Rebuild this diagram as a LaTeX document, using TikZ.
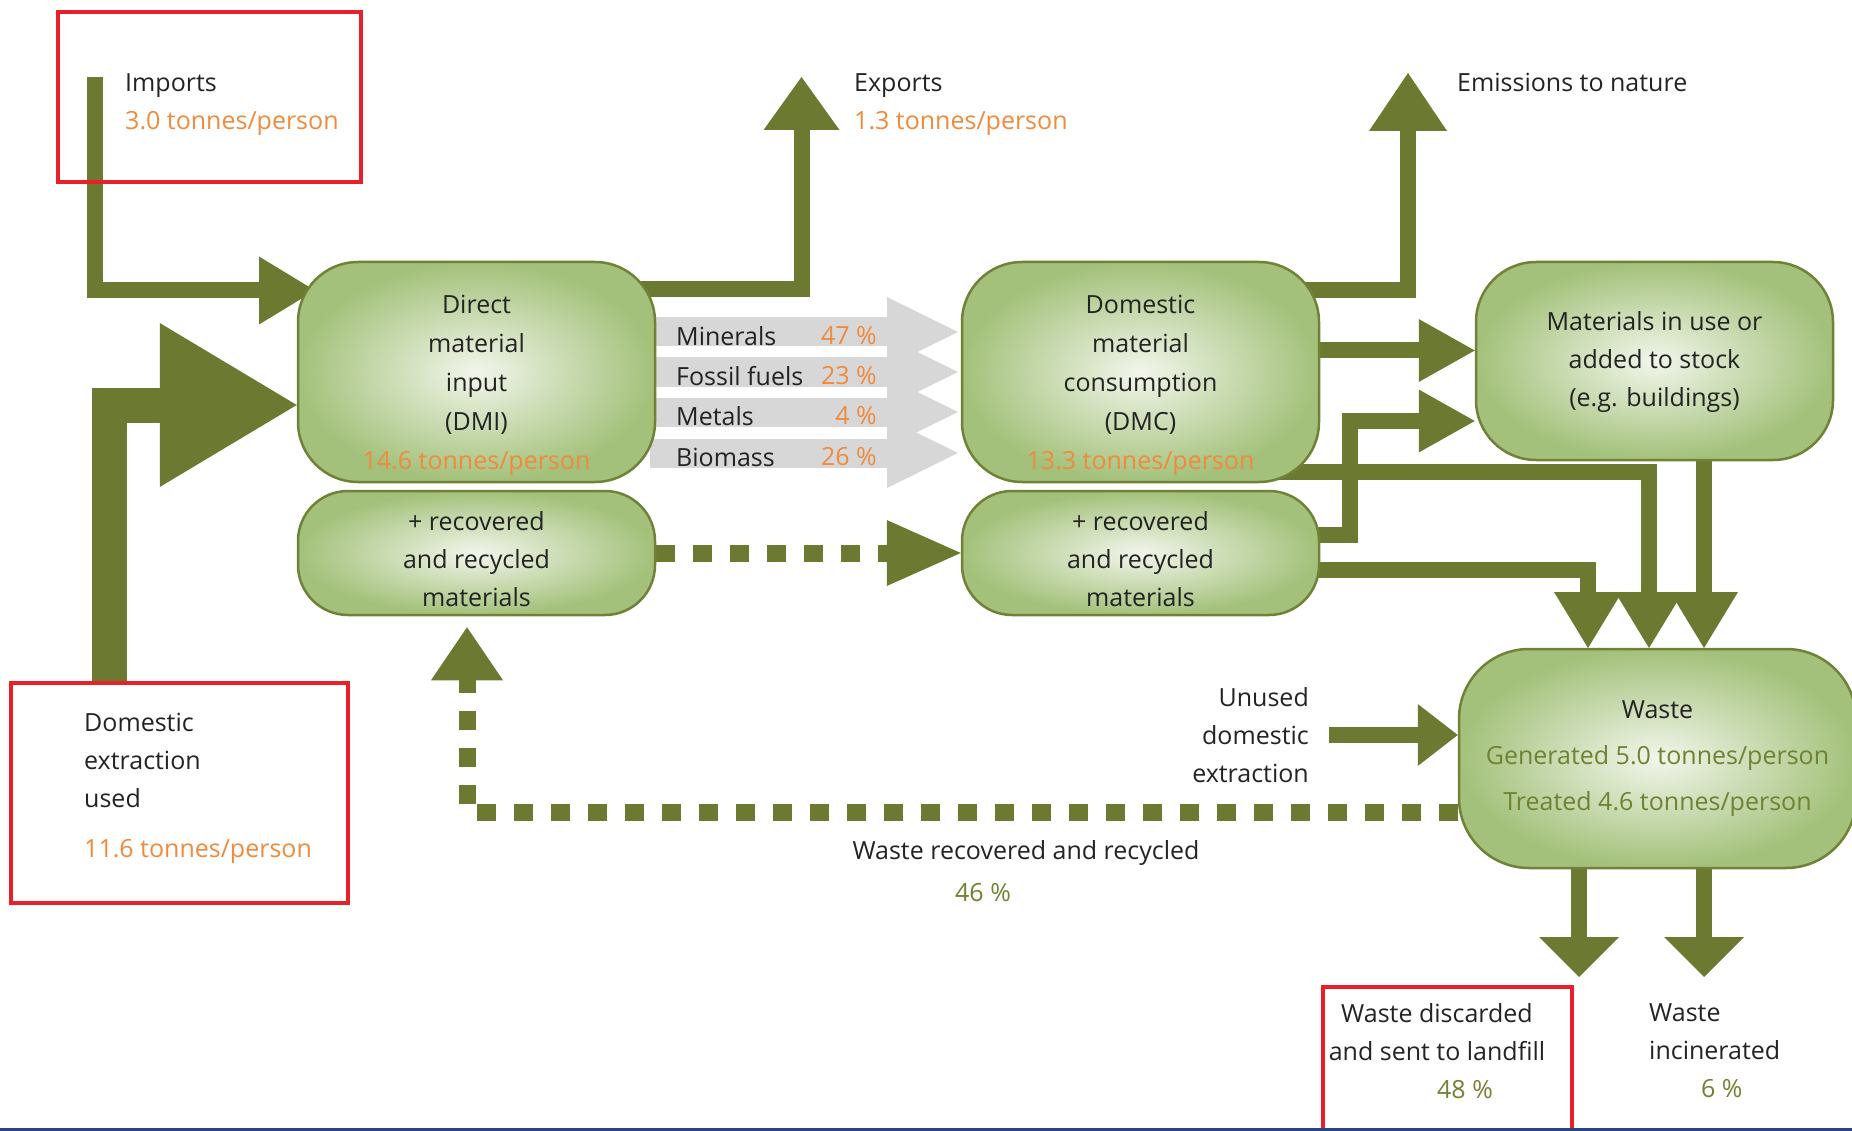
\documentclass[tikz,border=0pt]{standalone}
\usepackage{fontspec}
\setmainfont{Open Sans}
\usetikzlibrary{arrows.meta}
\definecolor{flowgreen}{RGB}{107,122,48}
\definecolor{boxedge}{RGB}{112,130,55}
\definecolor{boxouter}{RGB}{163,193,122}
\definecolor{boxinner}{RGB}{242,246,235}
\definecolor{figorange}{RGB}{240,138,60}
\definecolor{figgreen}{RGB}{112,130,50}
\definecolor{bandgrey}{RGB}{215,215,215}
\definecolor{textgrey}{RGB}{35,35,35}
\definecolor{framered}{RGB}{232,32,42}
\definecolor{ruleblue}{RGB}{40,70,125}
\newcommand{\boxlift}[1]{\rule{0pt}{#1}}
\pgfdeclarelayer{behind}
\pgfsetlayers{behind,main}

\begin{document}
\begin{tikzpicture}[x=1pt,y=-1pt,
  every node/.style={font=\fontsize{25}{38}\selectfont, text=textgrey, inner sep=0pt},
  box/.style={draw=boxedge, line width=2.5pt, rounded corners=60pt, inner color=boxinner, outer color=boxouter, align=center, minimum width=357pt},
  flow/.style={draw=flowgreen, line width=16pt, -{Triangle[length=56pt,width=68pt,line width=0pt]}},
  recyc/.style={flow, line width=17pt, dash pattern=on 19pt off 18pt},
  redframe/.style={draw=framered, line width=4pt}]
\useasboundingbox (0,0) rectangle (1852,1131);
\node[box, minimum height=220pt, font=\fontsize{25}{39}\selectfont] (DMI) at (476.5,372) {\boxlift{45pt}Direct\\material\\input\\(DMI)\\{\color{figorange}14.6 tonnes/person}};
\node[box, minimum height=124pt, rounded corners=50pt] (rec1) at (476.5,553) {\boxlift{31pt}+ recovered\\and recycled\\materials};
\node[box, minimum height=220pt, font=\fontsize{25}{39}\selectfont] (DMC) at (1140.5,372) {\boxlift{45pt}Domestic\\material\\consumption\\(DMC)\\{\color{figorange}13.3 tonnes/person}};
\node[box, minimum height=124pt, rounded corners=50pt] (rec2) at (1140.5,553) {\boxlift{31pt}+ recovered\\and recycled\\materials};
\node[box, minimum height=198pt] (stock) at (1654.5,361) {\boxlift{22pt}Materials in use or\\added to stock\\(e.g. buildings)};
\node[box, minimum width=397pt, minimum height=219pt, rounded corners=70pt, font=\fontsize{25}{46}\selectfont] (waste) at (1657.5,758.5) {Waste\\{\color{figgreen}Generated 5.0 tonnes/person}\\{\color{figgreen}Treated 4.6 tonnes/person}};
\node[anchor=north west, align=left] (implbl) at (125,73) {Imports\\{\color{figorange}3.0 tonnes/person}};
\node[anchor=north west, align=left] (explbl) at (854,73) {Exports\\{\color{figorange}1.3 tonnes/person}};
\node[anchor=west] (emlbl) at (1457,82) {Emissions to nature};
\node[anchor=north west, align=left] (dexlbl) at (84,713) {Domestic\\extraction\\used\\[12pt]{\color{figorange}11.6 tonnes/person}};
\node[anchor=east, align=right] (unused) at (1309,735) {Unused\\domestic\\extraction};
\node (reclbl) at (1026,853) {Waste recovered and recycled};
\node[text=figgreen] (recpct) at (983,893) {46 \%};
\node[anchor=north, align=center] (landfill) at (1437,1003) {Waste discarded\\and sent to landfill\\\hspace*{56pt}{\color{figgreen}48 \%}};
\node[anchor=north west, align=left] (incin) at (1649,1003) {Waste\\incinerated\\\hspace*{52pt}{\color{figgreen}6 \%}};
\foreach \y/\kind/\share in {332/Minerals/47,372/Fossil fuels/23,412/Metals/4,453/Biomass/26} {
  \node[anchor=west] (kind\share) at (676,\y+4) {\kind};
  \node[anchor=east, text=figorange] (share\share) at (877,\y+4) {\share\ \%};
}
\node[redframe, minimum width=303pt, minimum height=170pt] (impframe) at (209.5,97) {};
\node[redframe, minimum width=337pt, minimum height=220pt] (dexframe) at (179.5,793) {};
\node[redframe, minimum width=249pt, minimum height=150pt] (lfframe) at (1447.5,1062) {};
\coordinate (impsrc) at (94.5,77);
\coordinate (imptip) at (315,290.5);
\coordinate (exptip) at (801.5,77);
\coordinate (emtip) at (1408,73);
\coordinate (riser) at (1349.5,421);
\coordinate (wtipa) at (1588,648);
\coordinate (wtipb) at (1649,648);
\coordinate (wtipc) at (1704,648);
\coordinate (ltip) at (1579,977);
\coordinate (itip) at (1704,977);
\begin{pgfonlayer}{behind}
\foreach \y in {332,372,412,453} {
  \fill[bandgrey] (650,\y-14.5) rectangle (887,\y+14.5);
  \fill[bandgrey] (887,\y-35) -- (958,\y) -- (887,\y+35) -- cycle;
}
\draw[flow] (impsrc) |- (imptip);
\draw[flow, line width=35pt, -{Triangle[length=137pt,width=164pt,line width=0pt]}] (dexframe.north -| 109.5,0) |- ([yshift=-33pt]DMI.west);
\draw[flow, -{Triangle[length=53pt,width=76pt,line width=0pt]}] (DMI.center |- 0,289.5) -| (exptip);
\draw[flow, -{Triangle[length=58pt,width=78pt,line width=0pt]}] (DMC.center |- 0,290) -| (emtip);
\draw[flow, -{Triangle[length=56pt,width=63pt,line width=0pt]}] (DMC.center |- 0,350.5) -- (stock.west |- 0,350.5);
\draw[flow, -{Triangle[length=56pt,width=63pt,line width=0pt]}] (rec2.center |- 0,534.5) -| (riser) -- (stock.west |- riser);
\draw[flow] (rec2.center |- 0,569.5) -| (wtipa);
\draw[flow] (DMC.center |- 0,471.5) -| (wtipb);
\draw[flow] (stock.center -| wtipc) -- (wtipc);
\draw[flow, -{Triangle[length=40pt,width=62pt,line width=0pt]}] ([xshift=20pt]unused.east) -- (waste.west |- unused.east);
\draw[flow, -{Triangle[length=40pt,width=80pt,line width=0pt]}] (waste.center -| ltip) -- (ltip);
\draw[flow, -{Triangle[length=40pt,width=80pt,line width=0pt]}] (waste.center -| itip) -- (itip);
\draw[recyc, -{Triangle[length=74pt,width=66pt,line width=0pt]}] (rec1.east) -- (rec2.west);
\draw[recyc, -{Triangle[length=53pt,width=72pt,line width=0pt]}] (waste.west |- 0,812.5) -| ([xshift=-9.5pt,yshift=-11pt]rec1.south);
\end{pgfonlayer}
\draw[ruleblue, line width=3pt] (0,1129.5) -- (1852,1129.5);
\end{tikzpicture}
\end{document}
